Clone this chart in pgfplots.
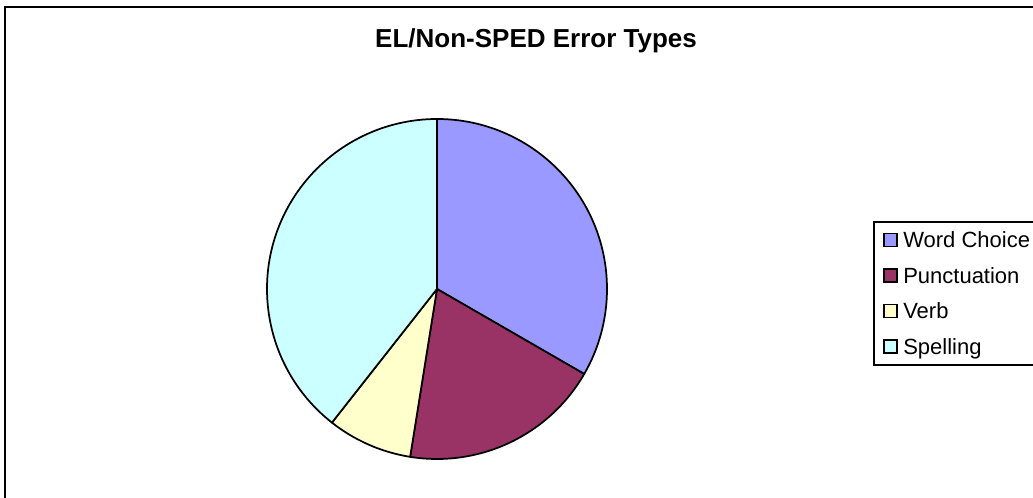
\documentclass[border=0pt]{standalone}
\usepackage{fontspec}
\setmainfont{Liberation Sans}
\usepackage{pgfplots}
\usepackage{pgfplotstable}
\pgfplotsset{compat=1.18}
\definecolor{wc}{HTML}{9999FF}
\definecolor{pu}{HTML}{993366}
\definecolor{vb}{HTML}{FFFFCC}
\definecolor{sp}{HTML}{CCFFFF}
\pgfplotstableread{
label value
WordChoice 33
Punctuation 19
Verb 8
Spelling 39
}\pietable
\begin{document}
\begin{tikzpicture}[x=0.75pt,y=0.75pt]
\pgfplotstablegetelem{0}{value}\of\pietable \let\va\pgfplotsretval
\pgfplotstablegetelem{1}{value}\of\pietable \let\vb\pgfplotsretval
\pgfplotstablegetelem{2}{value}\of\pietable \let\vc\pgfplotsretval
\pgfplotstablegetelem{3}{value}\of\pietable \let\vd\pgfplotsretval
\pgfmathsetmacro\tot{\va+\vb+\vc+\vd}
\pgfmathsetmacro\aA{90}
\pgfmathsetmacro\aB{\aA-360*\va/\tot}
\pgfmathsetmacro\aC{\aB-360*\vb/\tot}
\pgfmathsetmacro\aD{\aC-360*\vc/\tot}
\pgfmathsetmacro\aE{\aD-360*\vd/\tot}
\clip (0,0) rectangle (1033,498);
\fill[white] (0,0) rectangle (1033,498);
\draw[line width=1.5pt] (5,491) rectangle (1050,-20);
\node[anchor=base, inner sep=0pt, font=\bfseries\fontsize{19.5}{23}\selectfont] at (536,450.5) {EL/Non-SPED Error Types};
% legend
\draw[line width=1.1pt] (874,276) rectangle (1060,133);
\foreach \c/\t/\yy in {wc/Word Choice/240, pu/Punctuation/275.5, vb/Verb/311, sp/Spelling/346.5}{
  \filldraw[fill=\c, draw=black, line width=0.9pt] (884,{498-\yy-6.5}) rectangle (897,{498-\yy+6.5});
  \node[anchor=base west, inner sep=0pt, font=\fontsize{16.5}{20}\selectfont] at (903,{498-\yy-7.9}) {\t};
}
\begin{axis}[at={(327.75pt,156.75pt)}, anchor=origin, x=127.5pt, y=127.5pt,
  xmin=-1.05, xmax=1.05, ymin=-1.05, ymax=1.05, hide axis, scale only axis, clip=false]
\filldraw[fill=wc, draw=black, line width=1.3pt, line join=round] (axis cs:0,0) -- (axis cs:{cos(\aA)},{sin(\aA)}) arc[start angle=\aA, end angle=\aB, radius=127.5pt] -- cycle;
\filldraw[fill=pu, draw=black, line width=1.3pt, line join=round] (axis cs:0,0) -- (axis cs:{cos(\aB)},{sin(\aB)}) arc[start angle=\aB, end angle=\aC, radius=127.5pt] -- cycle;
\filldraw[fill=vb, draw=black, line width=1.3pt, line join=round] (axis cs:0,0) -- (axis cs:{cos(\aC)},{sin(\aC)}) arc[start angle=\aC, end angle=\aD, radius=127.5pt] -- cycle;
\filldraw[fill=sp, draw=black, line width=1.3pt, line join=round] (axis cs:0,0) -- (axis cs:{cos(\aD)},{sin(\aD)}) arc[start angle=\aD, end angle=\aE, radius=127.5pt] -- cycle;
\end{axis}
\end{tikzpicture}
\end{document}
